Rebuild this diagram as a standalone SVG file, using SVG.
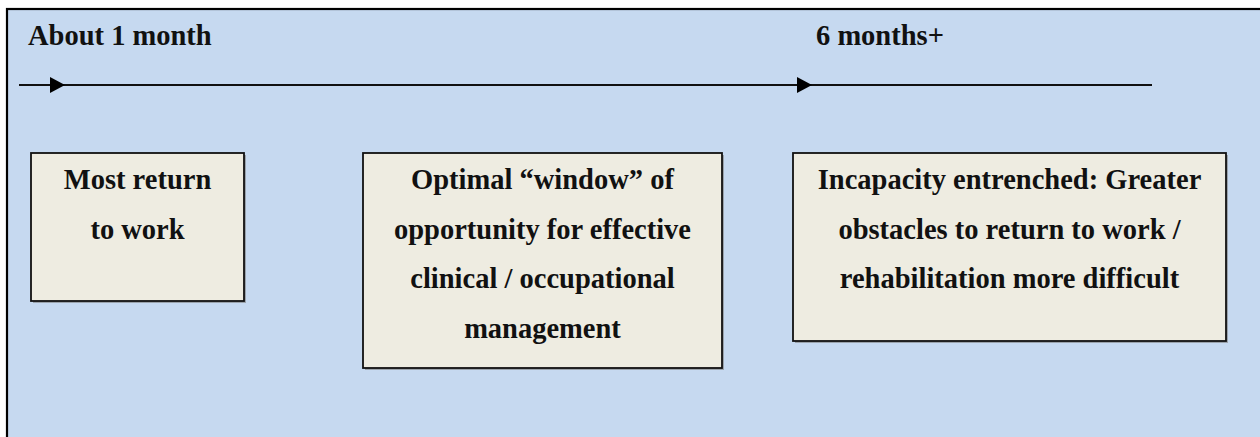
<svg xmlns="http://www.w3.org/2000/svg" width="1260" height="437" viewBox="0 0 1260 437">
<style>
  .lbl { font-family: "Liberation Serif", "Times New Roman", serif; font-weight: bold; font-size: 28.5px; fill: #111; }
  .c { text-anchor: middle; }
  .box { fill: #EEECE1; stroke: #111; stroke-width: 1.8; }
  .shadow { fill: #7f7f7f; opacity: 0.6; }
  .tl { stroke: #111; stroke-width: 1.8; fill: none; }
  .ah { fill: #000; }
</style>
<rect x="7" y="9" width="1270" height="440" fill="#C6D9F0" stroke="#000" stroke-width="2.2"/>
<text class="lbl" x="28" y="45">About 1 month</text>
<text class="lbl" x="816" y="45">6 months+</text>
<g id="connectors">
  <line class="tl" x1="19" y1="85" x2="1152" y2="85"/>
  <polygon class="ah" points="50,77 65,85 50,93"/>
  <polygon class="ah" points="797,77 812,85 797,93"/>
</g>
<g id="node1">
  <rect class="shadow" x="33" y="155" width="213" height="148"/>
  <rect class="box" x="31" y="153" width="213" height="148"/>
  <text class="lbl c" x="137.5" y="189">Most return</text>
  <text class="lbl c" x="137.5" y="239">to work</text>
</g>
<g id="node2">
  <rect class="shadow" x="365" y="155" width="359" height="215"/>
  <rect class="box" x="363" y="153" width="359" height="215"/>
  <text class="lbl c" x="542.5" y="189">Optimal “window” of</text>
  <text class="lbl c" x="542.5" y="239">opportunity for effective</text>
  <text class="lbl c" x="542.5" y="288">clinical / occupational</text>
  <text class="lbl c" x="542.5" y="338">management</text>
</g>
<g id="node3">
  <rect class="shadow" x="795" y="155" width="433" height="188"/>
  <rect class="box" x="793" y="153" width="433" height="188"/>
  <text class="lbl c" x="1009.5" y="189">Incapacity entrenched: Greater</text>
  <text class="lbl c" x="1009.5" y="239">obstacles to return to work /</text>
  <text class="lbl c" x="1009.5" y="288">rehabilitation more difficult</text>
</g>
</svg>
